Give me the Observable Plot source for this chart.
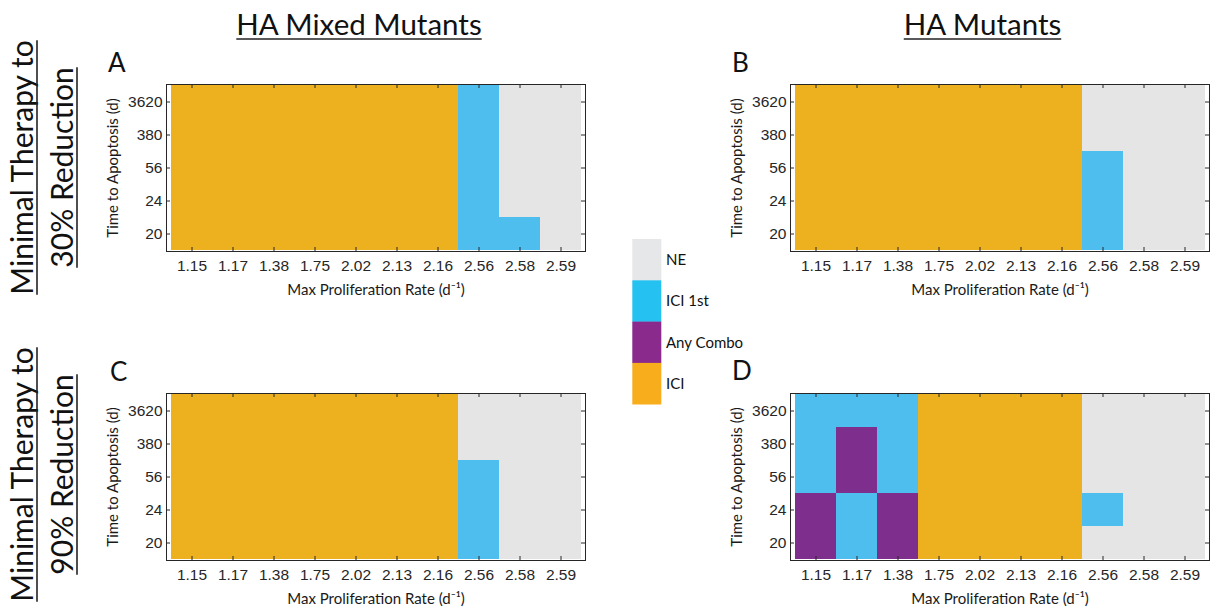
<!DOCTYPE html>
<html>
<head>
<meta charset="utf-8">
<script src="https://cdn.jsdelivr.net/npm/d3@7"></script>
<script src="https://cdn.jsdelivr.net/npm/@observablehq/plot@0.6"></script>
<style>
html, body { margin: 0; padding: 0; background: #fff; overflow: hidden; width: 1213px; height: 607px; }
#root { position: relative; width: 1213px; height: 607px; }
.panel { position: absolute; }
#overlay { position: absolute; left: 0; top: 0; pointer-events: none; }
</style>
</head>
<body>
<div id="root"></div>
<script>
// ---------- data ----------
const rates = ["1.15", "1.17", "1.38", "1.75", "2.02", "2.13", "2.16", "2.56", "2.58", "2.59"];
const apoptosisTimes = ["3620", "380", "56", "24", "20"];
const outcomes = ["NE", "ICI 1st", "Any Combo", "ICI"];
const cellColors = ["#e5e5e5", "#4dbeee", "#7e2f8e", "#edb120"];
const legendColors = ["#e6e7e8", "#25c1f1", "#892a8c", "#f8ad1d"];

// outcome index (into outcomes) per cell; rows from 3620 d (top) to 20 d (bottom), columns follow rates
const panelA = [
  [3, 3, 3, 3, 3, 3, 3, 1, 0, 0],
  [3, 3, 3, 3, 3, 3, 3, 1, 0, 0],
  [3, 3, 3, 3, 3, 3, 3, 1, 0, 0],
  [3, 3, 3, 3, 3, 3, 3, 1, 0, 0],
  [3, 3, 3, 3, 3, 3, 3, 1, 1, 0]
];
const panelB = [
  [3, 3, 3, 3, 3, 3, 3, 0, 0, 0],
  [3, 3, 3, 3, 3, 3, 3, 0, 0, 0],
  [3, 3, 3, 3, 3, 3, 3, 1, 0, 0],
  [3, 3, 3, 3, 3, 3, 3, 1, 0, 0],
  [3, 3, 3, 3, 3, 3, 3, 1, 0, 0]
];
const panelC = [
  [3, 3, 3, 3, 3, 3, 3, 0, 0, 0],
  [3, 3, 3, 3, 3, 3, 3, 0, 0, 0],
  [3, 3, 3, 3, 3, 3, 3, 1, 0, 0],
  [3, 3, 3, 3, 3, 3, 3, 1, 0, 0],
  [3, 3, 3, 3, 3, 3, 3, 1, 0, 0]
];
const panelD = [
  [1, 1, 1, 3, 3, 3, 3, 0, 0, 0],
  [1, 2, 1, 3, 3, 3, 3, 0, 0, 0],
  [1, 2, 1, 3, 3, 3, 3, 0, 0, 0],
  [2, 1, 2, 3, 3, 3, 3, 1, 0, 0],
  [2, 1, 2, 3, 3, 3, 3, 0, 0, 0]
];

const columnTitles = ["HA Mixed Mutants", "HA Mutants"];
const rowTitles = [["Minimal Therapy to", "30% Reduction"], ["Minimal Therapy to", "90% Reduction"]];
const panelLetters = ["A", "B", "C", "D"];
const xLabel = "Max Proliferation Rate (d\u207B\u00B9)";
const yLabel = "Time to Apoptosis (d)";

// ---------- layout ----------
const FW = 419, FH = 167;
const frames = [
  {m: panelA, left: 166, top: 84},
  {m: panelB, left: 790, top: 84},
  {m: panelC, left: 166, top: 393},
  {m: panelD, left: 790, top: 393}
];
const mL = 70, mR = 2, mT = 8, mB = 52;
const INK = "#262626";
const SANS = "Lato, 'Open Sans', sans-serif";
const TICKFONT = "'Liberation Sans', Arial, sans-serif";

const root = document.getElementById("root");

function makePanel(matrix) {
  const cells = [];
  matrix.forEach((row, i) => row.forEach((v, j) => cells.push({rate: rates[j], time: apoptosisTimes[i], outcome: outcomes[v]})));
  return Plot.plot({
    width: FW + mL + mR,
    height: FH + mT + mB,
    marginLeft: mL, marginRight: mR, marginTop: mT, marginBottom: mB,
    style: {background: "transparent", overflow: "visible"},
    x: {domain: rates, padding: 0, label: null},
    y: {domain: apoptosisTimes, padding: 0, label: null},
    color: {domain: outcomes, range: cellColors},
    marks: [
      Plot.cell(cells, {x: "rate", y: "time", fill: "outcome"}),
      Plot.tickX(rates, {x: d => d, insetTop: FH - 4, stroke: INK}),
      Plot.tickX(rates, {x: d => d, insetBottom: FH - 4, stroke: INK}),
      Plot.tickY(apoptosisTimes, {y: d => d, insetRight: FW - 4, stroke: INK}),
      Plot.tickY(apoptosisTimes, {y: d => d, insetLeft: FW - 4, stroke: INK}),
      Plot.frame({stroke: INK, strokeWidth: 1}),
      Plot.axisX({anchor: "bottom", tickSize: 0, tickPadding: 8, fontSize: 15.5, fontFamily: TICKFONT, fill: INK, label: null}),
      Plot.axisY({anchor: "left", tickSize: 0, tickPadding: 4, fontSize: 15.5, fontFamily: TICKFONT, fill: INK, label: null}),
      Plot.text([xLabel], {frameAnchor: "bottom", dy: 38.5, lineAnchor: "middle", textAnchor: "middle", text: d => d, fontFamily: SANS, fontSize: 15, fill: "#1a1a1a"}),
      Plot.text([yLabel], {frameAnchor: "left", dx: -53, rotate: -90, lineAnchor: "middle", textAnchor: "middle", text: d => d, fontFamily: SANS, fontSize: 15, fill: "#1a1a1a"})
    ]
  });
}

frames.forEach(f => {
  const div = document.createElement("div");
  div.className = "panel";
  div.style.left = (f.left - mL) + "px";
  div.style.top = (f.top - mT) + "px";
  div.appendChild(makePanel(f.m));
  root.appendChild(div);
});

// ---------- overlay: titles, row labels, letters, legend ----------
const svg = d3.select(root).append("svg").attr("id", "overlay").attr("width", 1213).attr("height", 607);

function underlinedText(g, txt, size) {
  const t = g.append("text").attr("text-anchor", "middle").attr("font-family", SANS)
    .attr("font-size", size).attr("fill", "#111").text(txt);
  const w = t.node().getComputedTextLength();
  g.append("line").attr("x1", -w / 2).attr("x2", w / 2).attr("y1", 4).attr("y2", 4)
    .attr("stroke", "#222").attr("stroke-width", 1.6);
}

const colCenters = [359, 982.5];
columnTitles.forEach((t, i) => {
  const g = svg.append("g").attr("transform", `translate(${colCenters[i]},35)`);
  underlinedText(g, t, 29.5);
});

const rowCenters = [167.5, 474.5];
const rowBaselines = [33, 73];
rowTitles.forEach((lines, r) => {
  lines.forEach((t, k) => {
    const g = svg.append("g").attr("transform", `translate(${rowBaselines[k]},${rowCenters[r]}) rotate(-90)`);
    underlinedText(g, t, 30);
  });
});

const letterPos = [[108, 72], [732, 72], [110, 380.5], [732, 380]];
panelLetters.forEach((L, i) => {
  svg.append("text").attr("x", letterPos[i][0]).attr("y", letterPos[i][1])
    .attr("font-family", SANS).attr("font-size", 26).attr("fill", "#111").text(L);
});

const legX = 632.3, legY = 239, legW = 29, legH = 41.3;
outcomes.forEach((o, i) => {
  svg.append("rect").attr("x", legX).attr("y", legY + i * legH).attr("width", legW).attr("height", legH + 0.3)
    .attr("fill", legendColors[i]);
  svg.append("text").attr("x", 666).attr("y", legY + i * legH + legH / 2 + 5.4)
    .attr("font-family", SANS).attr("font-size", 15).attr("fill", "#111").text(o);
});
</script>
</body>
</html>
